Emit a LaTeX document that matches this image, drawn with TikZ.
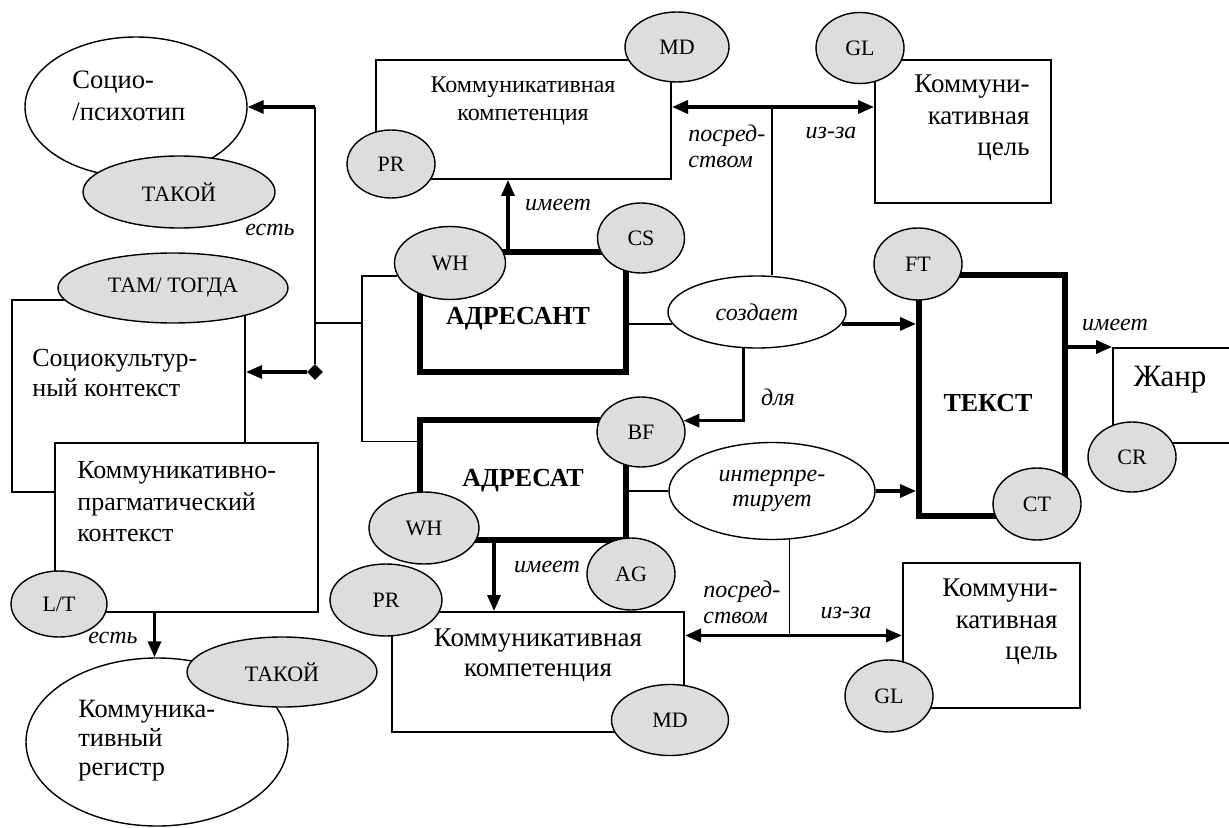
\documentclass[tikz,border=0pt]{standalone}
\usepackage{fontspec}
\setmainfont{Liberation Serif}
\usetikzlibrary{arrows.meta,shapes.geometric}
\definecolor{taggray}{RGB}{221,221,221}
\tikzset{
  box/.style={draw,line width=1pt,fill=white,inner sep=0pt},
  heavy/.style={draw,line width=3pt,fill=white,inner sep=0pt},
  oval/.style={ellipse,draw,line width=0.7pt,fill=white,inner sep=0pt},
  tag/.style={ellipse,draw,line width=0.7pt,fill=taggray,inner sep=0pt,font=\fontsize{11}{12}\selectfont},
  words/.style={inner sep=0pt,font=\fontsize{13}{15.5}\selectfont},
  bold/.style={inner sep=0pt,font=\fontsize{13}{15}\selectfont\bfseries},
  rel/.style={inner sep=0pt,align=left,font=\fontsize{12}{13}\selectfont\itshape},
  conn/.style={line width=0.7pt},
  link/.style={line width=1.6pt,-{Triangle[length=8pt,width=6.5pt]}},
  dlink/.style={line width=1.6pt,{Triangle[length=8pt,width=6.5pt]}-{Triangle[length=8pt,width=6.5pt]}},
}
\begin{document}
\begin{tikzpicture}[x=0.5pt,y=-0.5pt]
\clip (0,0) rectangle (1229,828);
% left side
\node[oval,minimum width=111pt,minimum height=70pt] (psy) at (136,107) {};
\node[words,anchor=west,align=left,font=\fontsize{13.3}{16}\selectfont] (psy-t) at (72,96) {Социо-\\/психотип};
\node[tag,minimum width=96pt,minimum height=36pt] (such1) at (179,192) {ТАКОЙ};
\node[rel] (is1) at (270,230) {есть};
\node[box,minimum width=116.5pt,minimum height=96pt] (scc) at (128.5,396) {};
\node[box,minimum width=131.5pt,minimum height=84.5pt] (kp) at (186.5,527.5) {};
\node[tag,minimum width=115pt,minimum height=35pt] (when) at (173,288) {ТАМ/ ТОГДА};
\node[words,anchor=west,align=left,font=\fontsize{13}{15}\selectfont] (scc-t) at (32,373) {Социокультур-\\ный контекст};
\node[words,anchor=west,align=left,font=\fontsize{13}{15.75}\selectfont] (kp-t) at (77,502) {Коммуникативно-\\прагматический\\контекст};
\node[tag,minimum width=48pt,minimum height=33pt] (lt) at (59,604) {L/T};
\node[oval,minimum width=131pt,minimum height=84pt] (reg) at (157,742) {};
\node[words,anchor=west,align=left,font=\fontsize{13.2}{14.5}\selectfont] (reg-t) at (78,741) {Коммуника-\\тивный\\регистр};
\node[tag,minimum width=95pt,minimum height=35pt] (such2) at (282,672) {ТАКОЙ};
\node[rel] (is2) at (113,638) {есть};
% top
\node[box,minimum width=147.5pt,minimum height=59.5pt] (kk1) at (523.5,119.5) {};
\node[words,align=center,font=\fontsize{12}{14}\selectfont] (kk1-t) at (523,101) {Коммуникативная\\компетенция};
\node[tag,minimum width=44pt,minimum height=34pt] (pr1) at (391,164) {PR};
\node[tag,minimum width=52pt,minimum height=35pt] (md1) at (677,47) {MD};
\node[box,minimum width=88pt,minimum height=71.5pt] (goal1) at (963,131.5) {};
\node[words,anchor=east,align=right,font=\fontsize{13.5}{15.75}\selectfont] (goal1-t) at (1030,118) {Коммуни-\\кативная\\цель};
\node[tag,minimum width=44pt,minimum height=35.5pt] (gl1) at (860,48) {GL};
% centre
\node[heavy,minimum width=103pt,minimum height=60pt] (ant) at (523,312) {};
\node[bold] (ant-t) at (518,319) {АДРЕСАНТ};
\node[tag,minimum width=55.5pt,minimum height=36.5pt] (wh1) at (450,263) {WH};
\node[tag,minimum width=43.5pt,minimum height=35pt] (cs) at (641,238) {CS};
\node[heavy,minimum width=103pt,minimum height=60pt] (sat) at (523,480) {};
\node[bold] (sat-t) at (523,481) {АДРЕСАТ};
\node[tag,minimum width=44pt,minimum height=35pt] (bf) at (641,432) {BF};
\node[tag,minimum width=55pt,minimum height=36pt] (wh2) at (424,528) {WH};
\node[tag,minimum width=44pt,minimum height=36pt] (ag) at (631,574) {AG};
\node[oval,minimum width=89pt,minimum height=36pt,font=\fontsize{12}{13}\selectfont\itshape] (cre) at (757,312) {создает};
\node[oval,minimum width=103pt,minimum height=48.5pt,align=center,font=\fontsize{12}{12.5}\selectfont\itshape] (int) at (772,491) {интерпре-\\тирует};
\node[heavy,minimum width=73pt,minimum height=120.5pt] (tekst) at (992,395.5) {};
\node[bold] (tekst-t) at (988,403) {ТЕКСТ};
\node[tag,minimum width=44pt,minimum height=36pt] (ft) at (918,264) {FT};
\node[tag,minimum width=44pt,minimum height=36pt] (ct) at (1037,504) {CT};
\node[box,minimum width=63.5pt,minimum height=47.5pt] (genre) at (1176.5,395.5) {};
\node[words,font=\fontsize{15.5}{18}\selectfont] (genre-t) at (1170,380) {Жанр};
\node[tag,minimum width=44pt,minimum height=35pt] (cr) at (1132,457) {CR};
% bottom
\node[box,minimum width=146pt,minimum height=60pt] (kk2) at (538,672) {};
\node[words,align=center,font=\fontsize{13.5}{15}\selectfont] (kk2-t) at (538,655) {Коммуникативная\\компетенция};
\node[tag,minimum width=56pt,minimum height=36pt] (pr2) at (386,600) {PR};
\node[tag,minimum width=58.5pt,minimum height=35.5pt] (md2) at (670,720) {MD};
\node[box,minimum width=88.5pt,minimum height=72.5pt] (goal2) at (991.5,635.5) {};
\node[words,anchor=east,align=right,font=\fontsize{13.5}{15.75}\selectfont] (goal2-t) at (1058,622) {Коммуни-\\кативная\\цель};
\node[tag,minimum width=44pt,minimum height=36pt] (gl2) at (889,696) {GL};
% connectors
\coordinate (brk) at (362,323);
\coordinate (jn) at (315,323);
\node[diamond,fill,inner sep=0pt,minimum size=8pt] (dia) at (315,372) {};
\draw[conn] (wh1.194) -| (brk) |- (sat.160);
\draw[conn] (brk) -- (jn);
\draw[conn] (dia) -- (jn) -- (jn |- psy.east);
\draw[link] (jn |- psy.east) -- (psy.east);
\draw[link] (dia) -- (dia -| scc.east);
\draw[link] ([xshift=-7.5pt]ant.north) -- ([xshift=-7.5pt]ant.north |- kk1.south);
\node[rel] (has1) at (558,205) {имеет};
\coordinate (mid1) at (772,107);
\draw[dlink] (mid1 -| kk1.east) -- (mid1 -| goal1.west);
\draw[conn] (mid1) -- (mid1 |- cre.north);
\node[rel,anchor=west] (via1) at (688,146) {посред-\\ством};
\node[rel] (due1) at (831,133) {из-за};
\draw[conn] (ant.east |- cre.188) -- (cre.188);
\draw[link] (cre.352) -- (cre.352 -| tekst.west);
\draw[link] (cre.250) |- (bf.15);
\node[rel] (for) at (778,397) {для};
\draw[conn] (sat.east |- int.west) -- (int.west);
\draw[link] (int.east) -- (int.east -| tekst.west);
\draw[link] ([xshift=-14.5pt]sat.south) -- ([xshift=-14.5pt]sat.south |- kk2.north);
\node[rel] (has2) at (547,567) {имеет};
\draw[dlink] (kk2.east |- goal2.west) -- (goal2.west);
\draw[conn] (int.290) -- (int.290 |- goal2.west);
\node[rel,anchor=west] (via2) at (703,602) {посред-\\ством};
\node[rel] (due2) at (846,613) {из-за};
\draw[link] (tekst.east |- genre.north west) -- (genre.north west);
\node[rel] (has3) at (1115,325) {имеет};
\draw[link] ([xshift=-16pt]kp.south) -- ([xshift=-16pt]kp.south |- reg.north);
\end{tikzpicture}
\end{document}
